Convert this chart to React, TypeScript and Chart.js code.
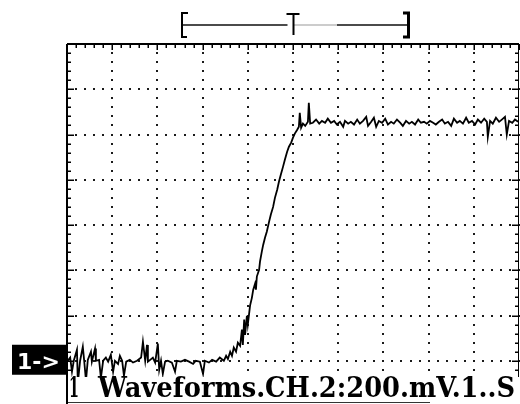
import { useEffect, useRef } from "react";
import { Chart, registerables } from "chart.js";

Chart.register(...registerables);

// Time in divisions (0..10), channel level in divisions above the "1->" ground marker
const timeDiv = [
  0.0, 0.07, 0.11, 0.15, 0.22, 0.24, 0.29, 0.35, 0.38, 0.42, 0.46, 0.53, 0.55, 0.62, 0.64, 0.71, 0.75, 0.8, 0.86, 0.91,
  0.97, 1.02, 1.06, 1.13, 1.17, 1.22, 1.26, 1.31, 1.39, 1.46, 1.55, 1.64, 1.68, 1.73, 1.77, 1.79, 1.84, 1.9, 1.95, 2.01,
  2.04, 2.08, 2.12, 2.17, 2.23, 2.32, 2.39, 2.43, 2.52, 2.61, 2.7, 2.79, 2.85, 2.94, 3.01, 3.05, 3.14, 3.21, 3.3, 3.38,
  3.47, 3.52, 3.56, 3.61, 3.65, 3.69, 3.74, 3.78, 3.83, 3.87, 3.89, 3.92, 3.94, 3.98, 4.0, 4.05, 4.09, 4.12, 4.16, 4.18,
  4.2, 4.25, 4.27, 4.31, 4.34, 4.38, 4.42, 4.47, 4.51, 4.56, 4.6, 4.65, 4.69, 4.73, 4.78, 4.82, 4.87, 4.91, 4.96, 5.0,
  5.04, 5.09, 5.13, 5.15, 5.18, 5.22, 5.27, 5.33, 5.35, 5.38, 5.44, 5.51, 5.58, 5.64, 5.71, 5.77, 5.84, 5.91, 5.97, 6.04,
  6.11, 6.15, 6.22, 6.28, 6.35, 6.42, 6.48, 6.55, 6.62, 6.66, 6.73, 6.79, 6.84, 6.9, 6.97, 7.04, 7.1, 7.17, 7.23, 7.3,
  7.37, 7.43, 7.5, 7.57, 7.63, 7.7, 7.77, 7.83, 7.9, 7.96, 8.03, 8.1, 8.16, 8.23, 8.3, 8.36, 8.43, 8.5, 8.56, 8.63,
  8.69, 8.76, 8.83, 8.89, 8.96, 9.03, 9.09, 9.16, 9.23, 9.29, 9.31, 9.36, 9.42, 9.49, 9.56, 9.62, 9.69, 9.73, 9.78, 9.85,
  9.91, 9.98,
];

const ch2Div = [
  -0.02, 0.07, -0.24, 0, 0.24, -0.49, 0, 0.31, 0, -0.44, 0.02, 0.2, -0.02, 0.27, 0, 0.02, -0.38, 0, 0.07, -0.02,
  0.13, -0.24, 0, -0.07, 0.11, 0, -0.33, -0.02, 0.02, -0.04, 0, 0.07, 0.42, 0, 0.35, -0.02, 0.02, 0.07, -0.04, 0.38,
  -0.2, 0, -0.29, -0.02, 0, -0.04, -0.24, 0, -0.02, 0.02, -0.02, -0.07, 0, -0.02, -0.29, 0, -0.04, 0.02, -0.02, 0.07,
  0, 0.11, 0.04, 0.2, 0.11, 0.29, 0.2, 0.4, 0.33, 0.69, 0.35, 0.91, 0.57, 0.99, 0.8, 1.22, 1.39, 1.57, 1.7, 1.57,
  1.86, 2.01, 2.19, 2.41, 2.56, 2.72, 2.85, 3.07, 3.23, 3.4, 3.6, 3.78, 3.96, 4.11, 4.29, 4.44, 4.62, 4.73, 4.82, 4.93,
  5.02, 5.1, 5.17, 5.48, 5.15, 5.24, 5.19, 5.28, 5.7, 5.24, 5.26, 5.33, 5.24, 5.3, 5.26, 5.35, 5.26, 5.3, 5.22, 5.28,
  5.17, 5.3, 5.24, 5.28, 5.22, 5.33, 5.24, 5.3, 5.39, 5.19, 5.28, 5.37, 5.17, 5.3, 5.26, 5.35, 5.22, 5.28, 5.24, 5.33,
  5.26, 5.19, 5.3, 5.24, 5.28, 5.22, 5.33, 5.26, 5.28, 5.24, 5.3, 5.26, 5.22, 5.28, 5.33, 5.24, 5.28, 5.19, 5.35, 5.26,
  5.3, 5.24, 5.37, 5.26, 5.3, 5.22, 5.33, 5.26, 5.35, 5.28, 4.95, 5.3, 5.24, 5.37, 5.28, 5.33, 5.39, 5.0, 5.3, 5.26,
  5.33, 5.28,
];

const channelLabel = "1->";
const footerPrefix = "1";
const footerText = "Waveforms.CH.2:200.mV.1..S";

const X_MIN = 0;
const X_MAX = 10;
const Y_MIN = -1;
const Y_MAX = 7;
const TRIGGER_DIV = 5;

const scopePlugin = {
  id: "scopeScreen",
  beforeDatasetsDraw(chart: any) {
    const { ctx, scales } = chart;
    const x = scales.x;
    const y = scales.y;
    ctx.save();
    ctx.fillStyle = "#1a1a1a";
    const dot = (px: number, py: number) => ctx.fillRect(Math.round(px) - 1, Math.round(py) - 1, 2, 2);
    for (let mx = X_MIN + 1; mx < X_MAX; mx++) {
      const px = x.getPixelForValue(mx);
      for (let i = 0; i <= (Y_MAX - Y_MIN) * 5; i++) dot(px, y.getPixelForValue(Y_MIN + i / 5));
    }
    for (let my = Y_MIN + 1; my < Y_MAX; my++) {
      const py = y.getPixelForValue(my);
      for (let i = 0; i <= (X_MAX - X_MIN) * 5; i++) dot(x.getPixelForValue(X_MIN + i / 5), py);
    }
    ctx.restore();
  },
  afterDatasetsDraw(chart: any) {
    const { ctx, chartArea: a, scales } = chart;
    const x = scales.x;
    const y = scales.y;
    ctx.save();
    ctx.strokeStyle = "#000";
    ctx.fillStyle = "#000";

    // frame
    ctx.lineWidth = 2;
    ctx.beginPath();
    ctx.moveTo(a.left, a.top);
    ctx.lineTo(a.right, a.top);
    ctx.moveTo(a.left, a.top);
    ctx.lineTo(a.left, a.bottom);
    ctx.stroke();
    ctx.lineWidth = 1;
    ctx.beginPath();
    ctx.moveTo(a.right - 0.5, a.top);
    ctx.lineTo(a.right - 0.5, a.bottom);
    ctx.stroke();

    // ticks on the frame
    ctx.lineWidth = 1.5;
    ctx.beginPath();
    for (let i = 0; i <= (X_MAX - X_MIN) * 5; i++) {
      const px = Math.round(x.getPixelForValue(X_MIN + i / 5)) + 0.25;
      const len = i % 5 === 0 ? 6 : 4;
      ctx.moveTo(px, a.top);
      ctx.lineTo(px, a.top + len);
    }
    for (let i = 0; i <= (Y_MAX - Y_MIN) * 5; i++) {
      const py = Math.round(y.getPixelForValue(Y_MIN + i / 5)) + 0.25;
      const len = i % 5 === 0 ? 7 : 4;
      ctx.moveTo(a.left, py);
      ctx.lineTo(a.left + len, py);
      ctx.moveTo(a.right, py);
      ctx.lineTo(a.right - len, py);
    }
    ctx.stroke();

    // memory window bracket with trigger marker
    const tx = Math.round(x.getPixelForValue(TRIGGER_DIV)) + 0.5;
    ctx.lineWidth = 1.5;
    ctx.strokeStyle = "#111";
    ctx.beginPath();
    ctx.moveTo(183, 25);
    ctx.lineTo(tx - 6, 25);
    ctx.moveTo(337, 25);
    ctx.lineTo(409, 25);
    ctx.stroke();
    ctx.strokeStyle = "#999";
    ctx.lineWidth = 1;
    ctx.beginPath();
    ctx.moveTo(tx, 25);
    ctx.lineTo(337, 25);
    ctx.stroke();
    ctx.strokeStyle = "#000";
    ctx.lineWidth = 2;
    ctx.beginPath();
    ctx.moveTo(188, 13);
    ctx.lineTo(182, 13);
    ctx.lineTo(182, 37);
    ctx.lineTo(187, 37);
    ctx.moveTo(tx - 7, 14);
    ctx.lineTo(tx + 6, 14);
    ctx.moveTo(tx, 14);
    ctx.lineTo(tx, 35);
    ctx.stroke();
    ctx.lineWidth = 3;
    ctx.beginPath();
    ctx.moveTo(403, 13);
    ctx.lineTo(408.5, 13);
    ctx.lineTo(408.5, 37);
    ctx.lineTo(403, 37);
    ctx.stroke();

    // ground marker of channel 1
    const gy = y.getPixelForValue(0);
    ctx.fillStyle = "#000";
    ctx.fillRect(12, gy - 16, 54, 30);
    ctx.fillStyle = "#fff";
    ctx.font = 'bold 22px "DejaVu Sans"';
    ctx.textBaseline = "alphabetic";
    ctx.textAlign = "left";
    ctx.fillText(channelLabel, 17, gy + 8);

    // footer status line
    ctx.fillStyle = "#fff";
    ctx.fillRect(a.left + 1, 377, chart.width - a.left, 40);
    ctx.strokeStyle = "#333";
    ctx.lineWidth = 1;
    ctx.beginPath();
    ctx.moveTo(a.left, 402.5);
    ctx.lineTo(430, 402.5);
    ctx.stroke();
    ctx.lineWidth = 2;
    ctx.strokeStyle = "#000";
    ctx.beginPath();
    ctx.moveTo(a.left, 377);
    ctx.lineTo(a.left, a.bottom);
    ctx.stroke();
    ctx.fillStyle = "#000";
    ctx.font = 'bold 27px "DejaVu Serif"';
    ctx.fillText(footerPrefix, 69, 397, 10);
    ctx.fillText(footerText, 98, 397, 417);
    ctx.restore();
  },
};

export default function App() {
  const ref = useRef<HTMLCanvasElement | null>(null);
  useEffect(() => {
    if (!ref.current) return;
    const chart = new Chart(ref.current, {
      type: "line",
      data: {
        datasets: [
          {
            label: "CH 2",
            data: timeDiv.map((t, i) => ({ x: t, y: ch2Div[i] })),
            borderColor: "#000",
            borderWidth: 1.8,
            pointRadius: 0,
            tension: 0,
            fill: false,
          },
        ],
      },
      options: {
        responsive: false,
        animation: false,
        events: [],
        layout: { padding: { left: 67, top: 44, right: 1, bottom: 14 } },
        plugins: { legend: { display: false }, tooltip: { enabled: false } },
        scales: {
          x: { type: "linear", display: false, min: X_MIN, max: X_MAX },
          y: { type: "linear", display: false, min: Y_MIN, max: Y_MAX },
        },
      },
      plugins: [scopePlugin],
    });
    return () => chart.destroy();
  }, []);
  return (
    <div
      style={{
        position: "fixed",
        left: 0,
        top: 0,
        width: 520,
        height: 404,
        overflow: "hidden",
        background: "#fff",
      }}
    >
      <canvas ref={ref} width={520} height={420} style={{ display: "block", width: 520, height: 420 }} />
    </div>
  );
}
